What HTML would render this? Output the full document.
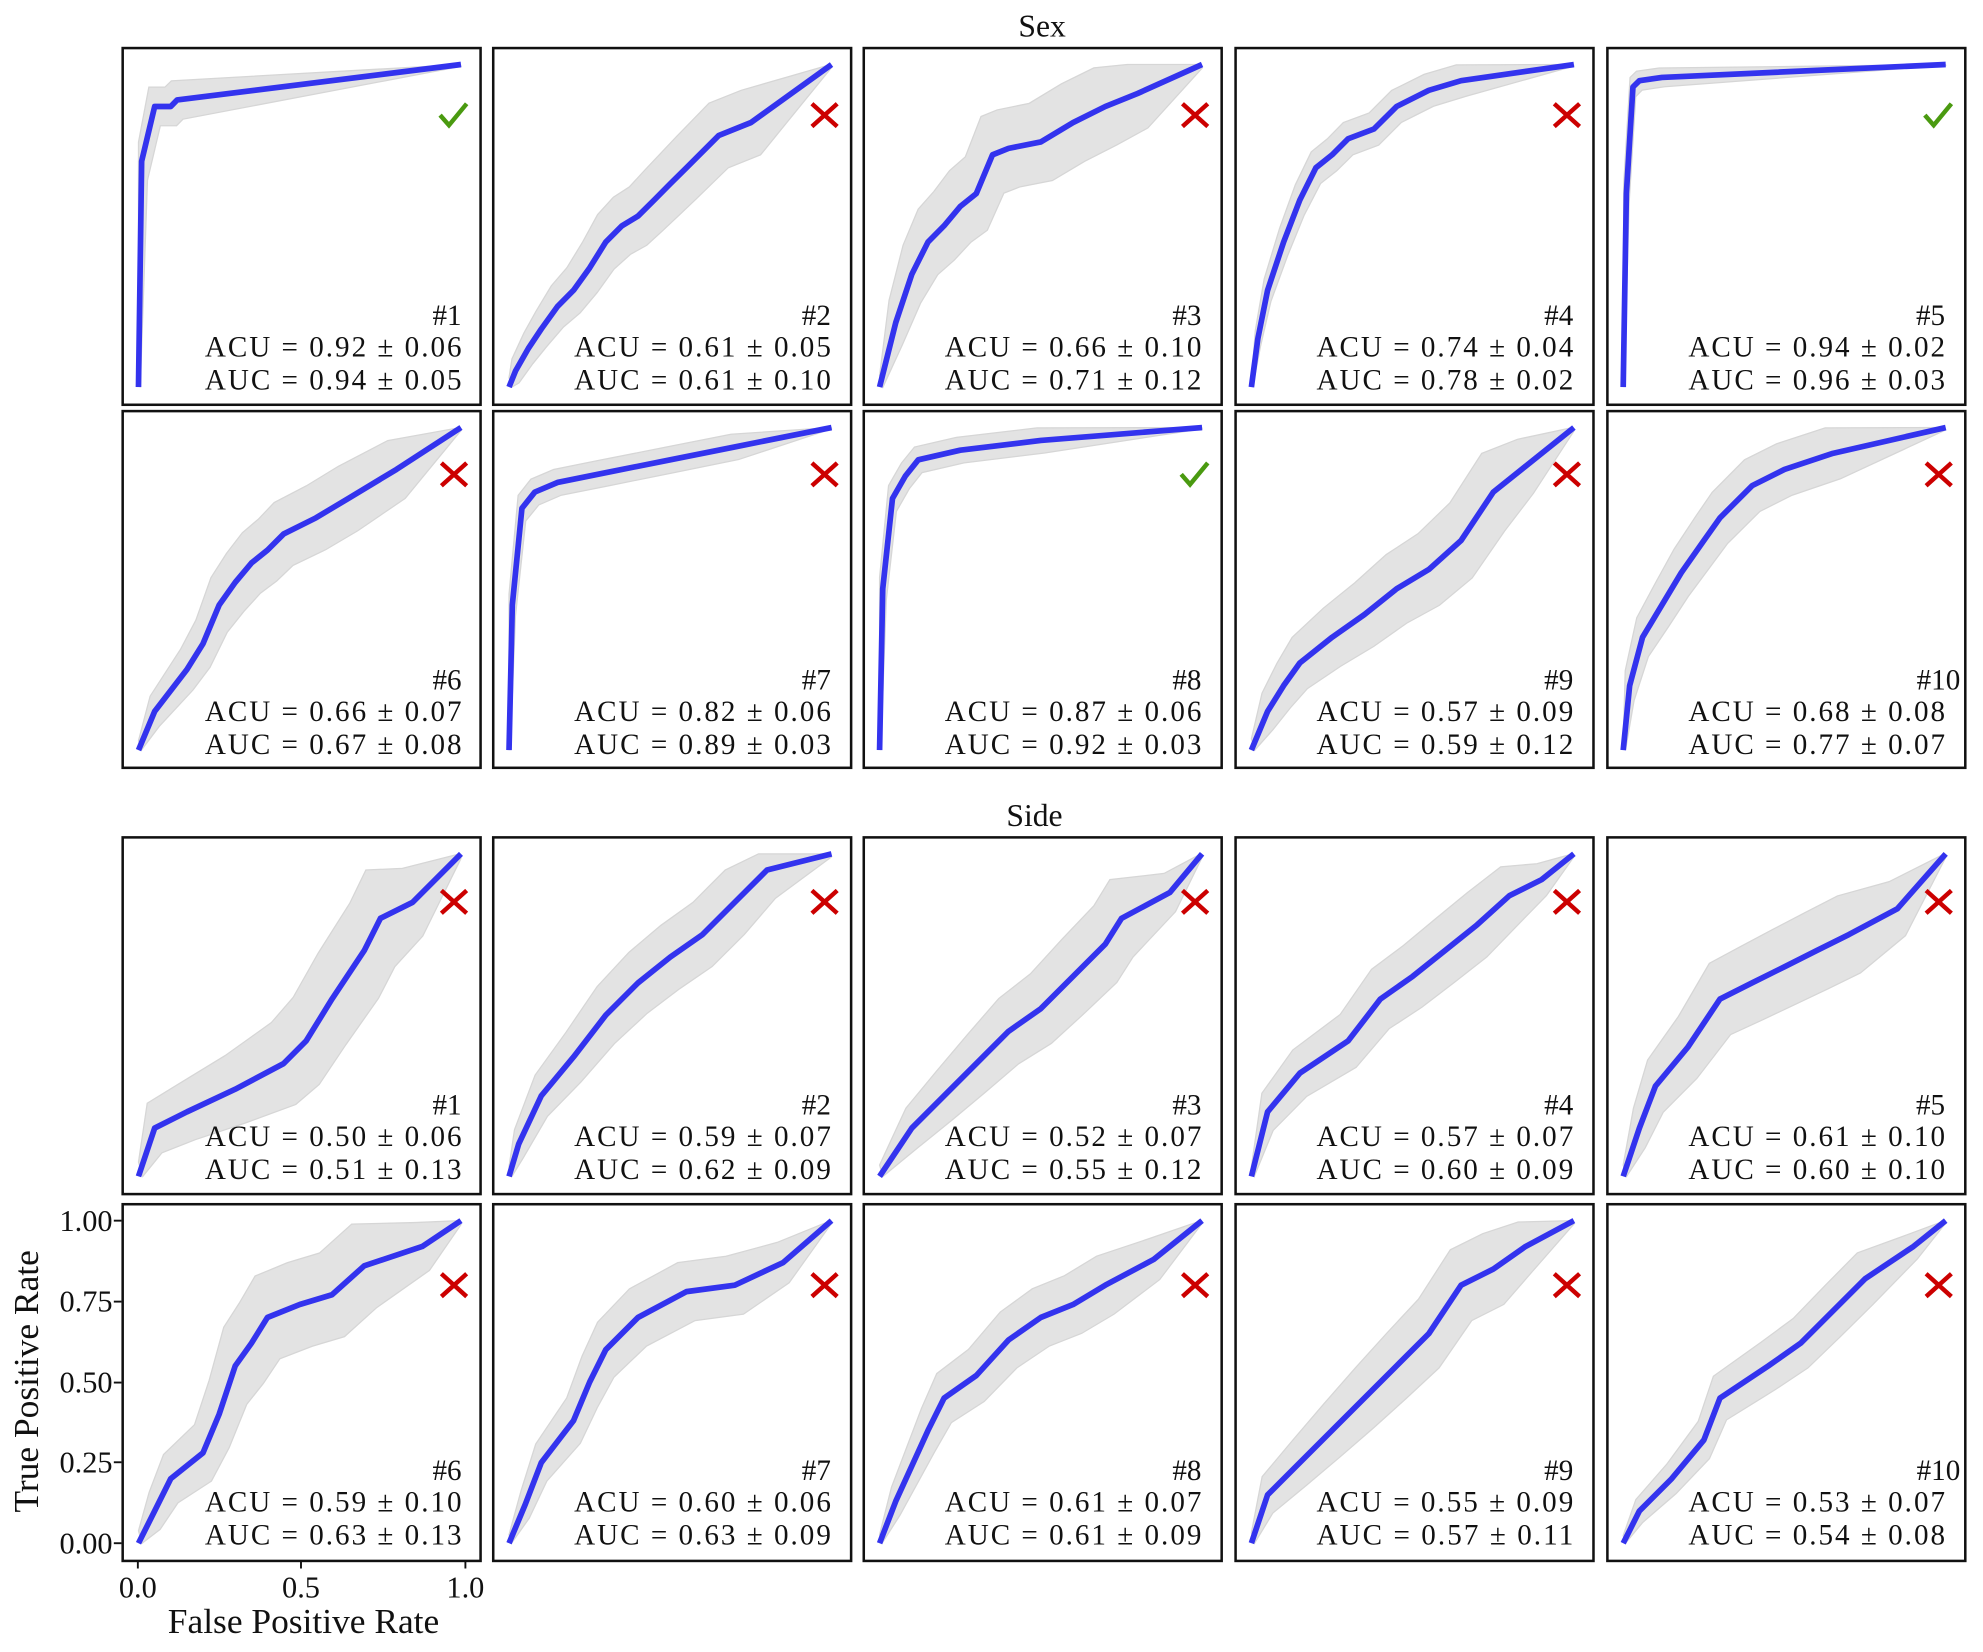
<!DOCTYPE html>
<html><head><meta charset="utf-8"><style>
html,body{margin:0;padding:0;background:#fff}
svg{display:block}
text{font-family:"Liberation Serif",serif;fill:#111}
</style></head><body>
<svg id="s" width="1983" height="1652" viewBox="0 0 1568 1306" preserveAspectRatio="none">
<text x="824" y="29" font-size="25" text-anchor="middle">Sex</text>
<text x="818" y="653" font-size="25" text-anchor="middle">Side</text>
<g id="panels"></g>
<g font-size="23" text-anchor="end">
<text x="365" y="257">#1</text><text x="365" y="282" textLength="203">ACU = 0.92 ± 0.06</text><text x="365" y="308" textLength="203">AUC = 0.94 ± 0.05</text>
<text x="657" y="257">#2</text><text x="657" y="282" textLength="203">ACU = 0.61 ± 0.05</text><text x="657" y="308" textLength="203">AUC = 0.61 ± 0.10</text>
<text x="950" y="257">#3</text><text x="950" y="282" textLength="203">ACU = 0.66 ± 0.10</text><text x="950" y="308" textLength="203">AUC = 0.71 ± 0.12</text>
<text x="1244" y="257">#4</text><text x="1244" y="282" textLength="203">ACU = 0.74 ± 0.04</text><text x="1244" y="308" textLength="203">AUC = 0.78 ± 0.02</text>
<text x="1538" y="257">#5</text><text x="1538" y="282" textLength="203">ACU = 0.94 ± 0.02</text><text x="1538" y="308" textLength="203">AUC = 0.96 ± 0.03</text>
<text x="365" y="545">#6</text><text x="365" y="570" textLength="203">ACU = 0.66 ± 0.07</text><text x="365" y="596" textLength="203">AUC = 0.67 ± 0.08</text>
<text x="657" y="545">#7</text><text x="657" y="570" textLength="203">ACU = 0.82 ± 0.06</text><text x="657" y="596" textLength="203">AUC = 0.89 ± 0.03</text>
<text x="950" y="545">#8</text><text x="950" y="570" textLength="203">ACU = 0.87 ± 0.06</text><text x="950" y="596" textLength="203">AUC = 0.92 ± 0.03</text>
<text x="1244" y="545">#9</text><text x="1244" y="570" textLength="203">ACU = 0.57 ± 0.09</text><text x="1244" y="596" textLength="203">AUC = 0.59 ± 0.12</text>
<text x="1550" y="545">#10</text><text x="1538" y="570" textLength="203">ACU = 0.68 ± 0.08</text><text x="1538" y="596" textLength="203">AUC = 0.77 ± 0.07</text>
<text x="365" y="881">#1</text><text x="365" y="906" textLength="203">ACU = 0.50 ± 0.06</text><text x="365" y="932" textLength="203">AUC = 0.51 ± 0.13</text>
<text x="657" y="881">#2</text><text x="657" y="906" textLength="203">ACU = 0.59 ± 0.07</text><text x="657" y="932" textLength="203">AUC = 0.62 ± 0.09</text>
<text x="950" y="881">#3</text><text x="950" y="906" textLength="203">ACU = 0.52 ± 0.07</text><text x="950" y="932" textLength="203">AUC = 0.55 ± 0.12</text>
<text x="1244" y="881">#4</text><text x="1244" y="906" textLength="203">ACU = 0.57 ± 0.07</text><text x="1244" y="932" textLength="203">AUC = 0.60 ± 0.09</text>
<text x="1538" y="881">#5</text><text x="1538" y="906" textLength="203">ACU = 0.61 ± 0.10</text><text x="1538" y="932" textLength="203">AUC = 0.60 ± 0.10</text>
<text x="365" y="1170">#6</text><text x="365" y="1195" textLength="203">ACU = 0.59 ± 0.10</text><text x="365" y="1221" textLength="203">AUC = 0.63 ± 0.13</text>
<text x="657" y="1170">#7</text><text x="657" y="1195" textLength="203">ACU = 0.60 ± 0.06</text><text x="657" y="1221" textLength="203">AUC = 0.63 ± 0.09</text>
<text x="950" y="1170">#8</text><text x="950" y="1195" textLength="203">ACU = 0.61 ± 0.07</text><text x="950" y="1221" textLength="203">AUC = 0.61 ± 0.09</text>
<text x="1244" y="1170">#9</text><text x="1244" y="1195" textLength="203">ACU = 0.55 ± 0.09</text><text x="1244" y="1221" textLength="203">AUC = 0.57 ± 0.11</text>
<text x="1550" y="1170">#10</text><text x="1538" y="1195" textLength="203">ACU = 0.53 ± 0.07</text><text x="1538" y="1221" textLength="203">AUC = 0.54 ± 0.08</text>
</g>
<g font-size="24" text-anchor="end">
<text x="89" y="973">1.00</text><text x="89" y="1037">0.75</text><text x="89" y="1101">0.50</text><text x="89" y="1164">0.25</text><text x="89" y="1228">0.00</text>
</g>
<g stroke="#111" stroke-width="1.5">
<line x1="90" y1="965" x2="96" y2="965"/><line x1="90" y1="1029" x2="96" y2="1029"/><line x1="90" y1="1093" x2="96" y2="1093"/><line x1="90" y1="1156" x2="96" y2="1156"/><line x1="90" y1="1220" x2="96" y2="1220"/>
<line x1="109" y1="1234" x2="109" y2="1240"/><line x1="238" y1="1234" x2="238" y2="1240"/><line x1="368" y1="1234" x2="368" y2="1240"/>
</g>
<g font-size="24" text-anchor="middle">
<text x="109" y="1263">0.0</text><text x="238" y="1263">0.5</text><text x="368" y="1263">1.0</text>
</g>
<text x="240" y="1291" font-size="28" text-anchor="middle">False Positive Rate</text>
<text transform="translate(30,1092) rotate(-90)" font-size="28" text-anchor="middle">True Positive Rate</text>
</svg>
<script>
var cols=[97,390,683,977,1271], rows=[38,325,662,952];
var D=[
[[[0,0],[0.01,0.7],[0.05,0.87],[0.1,0.87],[0.12,0.89],[1,1]],.06,1],
[[[0,0],[0.02,0.05],[0.06,0.12],[0.1,0.18],[0.15,0.25],[0.2,0.3],[0.25,0.37],[0.3,0.45],[0.35,0.5],[0.4,0.53],[0.45,0.58],[0.5,0.63],[0.55,0.68],[0.65,0.78],[0.75,0.82],[1,1]],.1,0],
[[[0,0],[0.05,0.2],[0.1,0.35],[0.15,0.45],[0.2,0.5],[0.25,0.56],[0.3,0.6],[0.35,0.72],[0.4,0.74],[0.5,0.76],[0.6,0.82],[0.7,0.87],[0.8,0.91],[1,1]],.12,0],
[[[0,0],[0.02,0.15],[0.05,0.3],[0.1,0.45],[0.15,0.58],[0.2,0.68],[0.25,0.72],[0.3,0.77],[0.38,0.8],[0.45,0.87],[0.55,0.92],[0.65,0.95],[1,1]],.05,0],
[[[0,0],[0.01,0.6],[0.03,0.93],[0.05,0.95],[0.12,0.96],[1,1]],.03,1],
[[[0,0],[0.05,0.12],[0.15,0.25],[0.2,0.33],[0.25,0.45],[0.3,0.52],[0.35,0.58],[0.4,0.62],[0.45,0.67],[0.55,0.72],[0.65,0.78],[0.8,0.87],[1,1]],.1,0],
[[[0,0],[0.01,0.45],[0.04,0.75],[0.08,0.8],[0.15,0.83],[0.3,0.86],[0.5,0.9],[0.7,0.94],[1,1]],.04,0],
[[[0,0],[0.01,0.5],[0.04,0.78],[0.08,0.85],[0.12,0.9],[0.25,0.93],[0.5,0.96],[1,1]],.04,1],
[[[0,0],[0.05,0.12],[0.1,0.2],[0.15,0.27],[0.25,0.35],[0.35,0.42],[0.45,0.5],[0.55,0.56],[0.65,0.65],[0.75,0.8],[0.85,0.88],[1,1]],.12,0],
[[[0,0],[0.02,0.2],[0.06,0.35],[0.12,0.45],[0.18,0.55],[0.25,0.65],[0.3,0.72],[0.4,0.82],[0.5,0.87],[0.65,0.92],[1,1]],.08,0],
[[[0,0],[0.05,0.15],[0.15,0.2],[0.3,0.27],[0.45,0.35],[0.52,0.42],[0.6,0.55],[0.7,0.7],[0.75,0.8],[0.85,0.85],[1,1]],.15,0],
[[[0,0],[0.03,0.1],[0.1,0.25],[0.2,0.37],[0.3,0.5],[0.4,0.6],[0.5,0.68],[0.6,0.75],[0.7,0.85],[0.8,0.95],[1,1]],.1,0],
[[[0,0],[0.1,0.15],[0.2,0.25],[0.3,0.35],[0.4,0.45],[0.5,0.52],[0.6,0.62],[0.7,0.72],[0.75,0.8],[0.9,0.88],[1,1]],.12,0],
[[[0,0],[0.05,0.2],[0.15,0.32],[0.3,0.42],[0.4,0.55],[0.5,0.62],[0.6,0.7],[0.7,0.78],[0.8,0.87],[0.9,0.92],[1,1]],.1,0],
[[[0,0],[0.05,0.15],[0.1,0.28],[0.2,0.4],[0.3,0.55],[0.4,0.6],[0.5,0.65],[0.6,0.7],[0.7,0.75],[0.85,0.83],[1,1]],.12,0],
[[[0,0],[0.05,0.1],[0.1,0.2],[0.2,0.28],[0.25,0.4],[0.3,0.55],[0.35,0.62],[0.4,0.7],[0.5,0.74],[0.6,0.77],[0.7,0.86],[0.88,0.92],[1,1]],.13,0],
[[[0,0],[0.05,0.12],[0.1,0.25],[0.2,0.38],[0.25,0.5],[0.3,0.6],[0.4,0.7],[0.55,0.78],[0.7,0.8],[0.85,0.87],[1,1]],.09,0],
[[[0,0],[0.05,0.13],[0.15,0.35],[0.2,0.45],[0.3,0.52],[0.4,0.63],[0.5,0.7],[0.6,0.74],[0.7,0.8],[0.85,0.88],[1,1]],.09,0],
[[[0,0],[0.05,0.15],[0.15,0.25],[0.25,0.35],[0.35,0.45],[0.45,0.55],[0.55,0.65],[0.65,0.8],[0.75,0.85],[0.85,0.92],[1,1]],.11,0],
[[[0,0],[0.05,0.1],[0.15,0.2],[0.25,0.32],[0.3,0.45],[0.45,0.55],[0.55,0.62],[0.65,0.72],[0.75,0.82],[0.9,0.92],[1,1]],.08,0]
];
var markY=[53,50,51,64];
var h='';
for(var i=0;i<20;i++){
 var r=Math.floor(i/5),c=i%5,ox=cols[c],oy=rows[r];
 var pts=D[i][0],w=D[i][1];
 var X=function(f){return (ox+12.5+255*f).toFixed(1)},Y=function(t){return (oy+268-255*t).toFixed(1)};
 var up=[],lo=[],ln=[];
 pts.forEach(function(p){var e=w*Math.sin(Math.PI*Math.max(p[0],Math.min(1,p[1]))*0.5+0.3)*Math.min(1,4*(1-p[0])+0.1);
  up.push(X(Math.max(0,p[0]-e*0.3))+','+Y(Math.min(1,p[1]+e)));
  lo.push(X(Math.min(1,p[0]+e*0.3))+','+Y(Math.max(0,p[1]-e)));
  ln.push(X(p[0])+','+Y(p[1]));});
 h+='<rect x="'+ox+'" y="'+oy+'" width="283" height="282" fill="#fff" stroke="#111" stroke-width="2"/>';
 h+='<polygon points="'+up.join(' ')+' '+lo.reverse().join(' ')+'" fill="#e3e3e3" stroke="#d6d6d6" stroke-width="1"/>';
 h+='<polyline points="'+ln.join(' ')+'" fill="none" stroke="#3333ee" stroke-width="4.5" stroke-linejoin="round"/>';
 var mx=ox+262,my=oy+markY[r];
 if(D[i][2]) h+='<polyline points="'+(mx-11)+','+(my)+' '+(mx-4)+','+(my+8)+' '+(mx+10)+','+(my-9)+'" fill="none" stroke="#4a9a10" stroke-width="3.5"/>';
 else h+='<path d="M'+(mx-10)+' '+(my-9)+'L'+(mx+10)+' '+(my+9)+'M'+(mx+10)+' '+(my-9)+'L'+(mx-10)+' '+(my+9)+'" stroke="#cc0000" stroke-width="3.5"/>';
}
document.getElementById('panels').innerHTML=h;
</script>
</body></html>
